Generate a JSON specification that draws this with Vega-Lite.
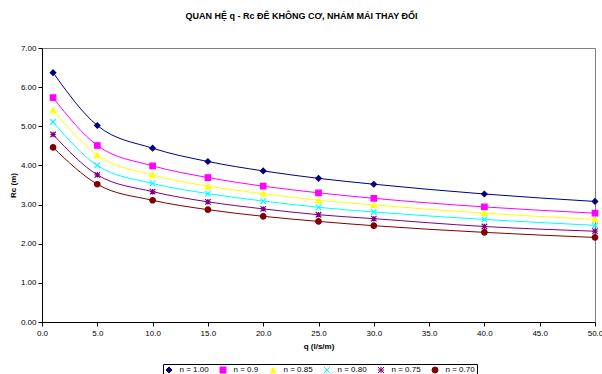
{
  "$schema": "https://vega.github.io/schema/vega-lite/v6.json",
  "width": 553,
  "height": 274,
  "autosize": {"type": "none"},
  "padding": {"left": 42, "top": 48, "right": 7, "bottom": 52},
  "title": {"text": "QUAN HỆ q - Rc ĐÊ KHÔNG CƠ, NHÁM MÁI THAY ĐỔI", "font": "Liberation Sans", "fontSize": 9, "fontWeight": "bold", "color": "#000000", "anchor": "middle", "offset": 23, "dx": -17},
  "config": {
    "font": "Liberation Sans",
    "view": {"stroke": "#808080", "strokeWidth": 1},
    "axis": {"grid": false, "domainColor": "#000000", "tickColor": "#000000", "tickSize": 4, "labelFont": "Liberation Sans", "labelFontSize": 8, "labelColor": "#000000", "titleFont": "Liberation Sans", "titleFontSize": 8, "titleFontWeight": "bold", "titleColor": "#000000"},
    "legend": {"orient": "none", "legendX": 121, "legendY": 316, "direction": "horizontal", "strokeColor": "#000000", "padding": 2, "symbolSize": 36, "symbolStrokeWidth": 1, "labelFont": "Liberation Sans", "labelFontSize": 8, "labelFontWeight": "normal", "labelColor": "#000000", "labelOffset": 6.5, "columnPadding": 9}
  },
  "data": {"values": [
    {"n": "n = 1.00", "q": 1, "Rc": 6.37}, {"n": "n = 1.00", "q": 5, "Rc": 5.02}, {"n": "n = 1.00", "q": 10, "Rc": 4.44}, {"n": "n = 1.00", "q": 15, "Rc": 4.10}, {"n": "n = 1.00", "q": 20, "Rc": 3.86}, {"n": "n = 1.00", "q": 25, "Rc": 3.67}, {"n": "n = 1.00", "q": 30, "Rc": 3.52}, {"n": "n = 1.00", "q": 40, "Rc": 3.27}, {"n": "n = 1.00", "q": 50, "Rc": 3.08},
    {"n": "n = 0.9", "q": 1, "Rc": 5.73}, {"n": "n = 0.9", "q": 5, "Rc": 4.51}, {"n": "n = 0.9", "q": 10, "Rc": 3.99}, {"n": "n = 0.9", "q": 15, "Rc": 3.69}, {"n": "n = 0.9", "q": 20, "Rc": 3.47}, {"n": "n = 0.9", "q": 25, "Rc": 3.30}, {"n": "n = 0.9", "q": 30, "Rc": 3.16}, {"n": "n = 0.9", "q": 40, "Rc": 2.94}, {"n": "n = 0.9", "q": 50, "Rc": 2.78},
    {"n": "n = 0.85", "q": 1, "Rc": 5.41}, {"n": "n = 0.85", "q": 5, "Rc": 4.26}, {"n": "n = 0.85", "q": 10, "Rc": 3.76}, {"n": "n = 0.85", "q": 15, "Rc": 3.47}, {"n": "n = 0.85", "q": 20, "Rc": 3.28}, {"n": "n = 0.85", "q": 25, "Rc": 3.11}, {"n": "n = 0.85", "q": 30, "Rc": 2.99}, {"n": "n = 0.85", "q": 40, "Rc": 2.78}, {"n": "n = 0.85", "q": 50, "Rc": 2.62},
    {"n": "n = 0.80", "q": 1, "Rc": 5.11}, {"n": "n = 0.80", "q": 5, "Rc": 4.00}, {"n": "n = 0.80", "q": 10, "Rc": 3.54}, {"n": "n = 0.80", "q": 15, "Rc": 3.28}, {"n": "n = 0.80", "q": 20, "Rc": 3.09}, {"n": "n = 0.80", "q": 25, "Rc": 2.93}, {"n": "n = 0.80", "q": 30, "Rc": 2.81}, {"n": "n = 0.80", "q": 40, "Rc": 2.62}, {"n": "n = 0.80", "q": 50, "Rc": 2.47},
    {"n": "n = 0.75", "q": 1, "Rc": 4.79}, {"n": "n = 0.75", "q": 5, "Rc": 3.76}, {"n": "n = 0.75", "q": 10, "Rc": 3.33}, {"n": "n = 0.75", "q": 15, "Rc": 3.07}, {"n": "n = 0.75", "q": 20, "Rc": 2.89}, {"n": "n = 0.75", "q": 25, "Rc": 2.74}, {"n": "n = 0.75", "q": 30, "Rc": 2.64}, {"n": "n = 0.75", "q": 40, "Rc": 2.44}, {"n": "n = 0.75", "q": 50, "Rc": 2.32},
    {"n": "n = 0.70", "q": 1, "Rc": 4.46}, {"n": "n = 0.70", "q": 5, "Rc": 3.52}, {"n": "n = 0.70", "q": 10, "Rc": 3.11}, {"n": "n = 0.70", "q": 15, "Rc": 2.87}, {"n": "n = 0.70", "q": 20, "Rc": 2.70}, {"n": "n = 0.70", "q": 25, "Rc": 2.57}, {"n": "n = 0.70", "q": 30, "Rc": 2.46}, {"n": "n = 0.70", "q": 40, "Rc": 2.29}, {"n": "n = 0.70", "q": 50, "Rc": 2.16}
  ]},
  "encoding": {
    "x": {"field": "q", "type": "quantitative", "title": "q (l/s/m)", "scale": {"domain": [0, 50], "nice": false, "zero": false}, "axis": {"values": [0, 5, 10, 15, 20, 25, 30, 35, 40, 45, 50], "format": ".1f", "labelPadding": 3, "titlePadding": 5, "labelFlush": false}},
    "y": {"field": "Rc", "type": "quantitative", "title": "Rc (m)", "scale": {"domain": [0, 7], "nice": false}, "axis": {"values": [0, 1, 2, 3, 4, 5, 6, 7], "format": ".2f", "labelPadding": 2, "titlePadding": 3, "labelFlush": false}}
  },
  "layer": [
    {
      "mark": {"type": "line", "interpolate": "monotone", "strokeWidth": 1},
      "encoding": {
        "stroke": {"field": "n", "type": "nominal", "title": null, "scale": {"domain": ["n = 1.00", "n = 0.9", "n = 0.85", "n = 0.80", "n = 0.75", "n = 0.70"], "range": ["#000080", "#FF00FF", "#FFFF00", "#00FFFF", "#800080", "#800000"]}, "legend": {"symbolType": {"expr": "['M-2.83,0H2.83M0,-0.85L0.85,0L0,0.85L-0.85,0Z','M-2.83,0H2.83M-0.85,-0.85H0.85V0.85H-0.85Z','M-2.83,0H2.83M0,-0.9L0.9,0.75H-0.9Z','M-2.83,0H2.83M-0.85,-0.85L0.85,0.85M-0.85,0.85L0.85,-0.85','M-2.83,0H2.83M-0.85,-0.85L0.85,0.85M-0.85,0.85L0.85,-0.85M0,-0.9V0.9','M-2.83,0H2.83M-0.9,0A0.9,0.9 0 1,0 0.9,0A0.9,0.9 0 1,0 -0.9,0Z'][indexof(['n = 1.00','n = 0.9','n = 0.85','n = 0.80','n = 0.75','n = 0.70'], datum.value)]"}}}
      }
    },
    {
      "mark": {"type": "point", "filled": true, "size": 30, "strokeWidth": 1.2, "opacity": 1},
      "encoding": {
        "fill": {"field": "n", "type": "nominal", "title": null, "scale": {"domain": ["n = 1.00", "n = 0.9", "n = 0.85", "n = 0.80", "n = 0.75", "n = 0.70"], "range": ["#000080", "#FF00FF", "#FFFF00", "#00FFFF", "#800080", "#800000"]}},
        "stroke": {"field": "n", "type": "nominal", "title": null, "scale": {"domain": ["n = 1.00", "n = 0.9", "n = 0.85", "n = 0.80", "n = 0.75", "n = 0.70"], "range": ["#000080", "#FF00FF", "#FFFF00", "#00FFFF", "#800080", "#800000"]}},
        "shape": {"field": "n", "type": "nominal", "title": null, "legend": null, "scale": {"domain": ["n = 1.00", "n = 0.9", "n = 0.85", "n = 0.80", "n = 0.75", "n = 0.70"], "range": ["diamond", "square", "triangle-up", "M-1,-1L1,1M-1,1L1,-1", "M-1,-1L1,1M-1,1L1,-1M0,-1V1M-1,0H1", "circle"]}}
      }
    }
  ]
}
